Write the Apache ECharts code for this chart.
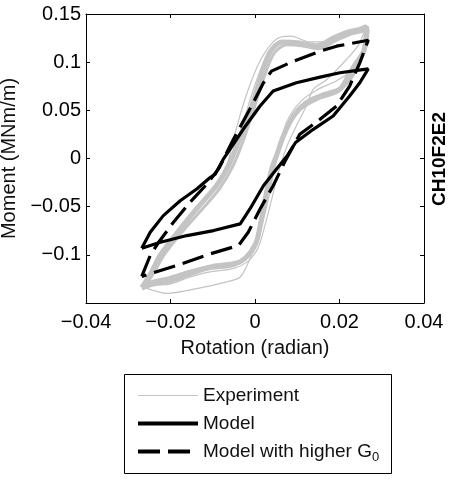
<!DOCTYPE html>
<html>
<head>
<meta charset="utf-8">
<script src="https://cdn.jsdelivr.net/npm/echarts@6/dist/echarts.min.js"></script>
<style>
  html, body { margin: 0; padding: 0; background: #fff; }
  #chart { width: 455px; height: 481px; }
</style>
</head>
<body>
<div id="chart"></div>
<script>
// tick labels
const xTicks = [-0.04, -0.02, 0, 0.02, 0.04]
const yTicks = [-0.1, -0.05, 0, 0.05, 0.1, 0.15]
const seriesNames = ['Experiment', 'Model', 'Model with higher G0']
const sideLabel = 'CH10F2E2'

// experiment loops [rotation, moment]
const expA = [
  [-0.0268, -0.134], [-0.0245, -0.118], [-0.0224, -0.100], [-0.0177, -0.073], [-0.0138, -0.052],
  [-0.0091, -0.028], [-0.0059, -0.004], [-0.0035, 0.022], [-0.0012, 0.048], [0.0012, 0.082],
  [0.0035, 0.110], [0.0065, 0.121], [0.0106, 0.120], [0.0146, 0.117], [0.0185, 0.125],
  [0.0217, 0.131], [0.0248, 0.134], [0.0264, 0.137], [0.0258, 0.112], [0.0236, 0.097],
  [0.0220, 0.085], [0.0201, 0.072], [0.0161, 0.066], [0.0122, 0.058], [0.0091, 0.044],
  [0.0067, 0.023], [0.0051, 0.003], [0.0040, -0.010], [0.0024, -0.042], [0.0012, -0.070],
  [0.0002, -0.088], [-0.0022, -0.103], [-0.0051, -0.110], [-0.0114, -0.114], [-0.0161, -0.121],
  [-0.0209, -0.128], [-0.0248, -0.131], [-0.0268, -0.134]
]
const expB = [
  [-0.0266, -0.136], [-0.0240, -0.119], [-0.0215, -0.100], [-0.0170, -0.075], [-0.0130, -0.055],
  [-0.0085, -0.032], [-0.0050, -0.006], [-0.0025, 0.022], [0.0000, 0.055], [0.0022, 0.085],
  [0.0045, 0.109], [0.0075, 0.118], [0.0110, 0.117], [0.0150, 0.114], [0.0190, 0.122],
  [0.0225, 0.129], [0.0255, 0.132], [0.0268, 0.134], [0.0262, 0.115], [0.0245, 0.097],
  [0.0225, 0.082], [0.0195, 0.069], [0.0150, 0.062], [0.0110, 0.052], [0.0082, 0.037],
  [0.0062, 0.018], [0.0048, -0.004], [0.0032, -0.030], [0.0018, -0.060], [0.0008, -0.082],
  [-0.0010, -0.099], [-0.0040, -0.107], [-0.0100, -0.111], [-0.0155, -0.117], [-0.0205, -0.124],
  [-0.0245, -0.128], [-0.0266, -0.136]
]
const expC = [
  [-0.0266, -0.133], [-0.0248, -0.118], [-0.0228, -0.103], [-0.0185, -0.078], [-0.0146, -0.058],
  [-0.0100, -0.034], [-0.0070, -0.012], [-0.0051, 0.020], [-0.0025, 0.060], [0.0005, 0.095],
  [0.0028, 0.113], [0.0055, 0.125], [0.0085, 0.127], [0.0130, 0.121], [0.0165, 0.121],
  [0.0200, 0.127], [0.0240, 0.131], [0.0262, 0.133], [0.0250, 0.105], [0.0225, 0.090],
  [0.0190, 0.080], [0.0150, 0.072], [0.0110, 0.060], [0.0075, 0.038], [0.0050, 0.000],
  [0.0035, -0.035], [0.0012, -0.077], [-0.0012, -0.104], [-0.0035, -0.123], [-0.0067, -0.128],
  [-0.0138, -0.135], [-0.0209, -0.140], [-0.0240, -0.137], [-0.0266, -0.133]
]
const expD = [
  [-0.0262, -0.130], [-0.0230, -0.110], [-0.0200, -0.090], [-0.0160, -0.066], [-0.0120, -0.045],
  [-0.0085, -0.022], [-0.0055, 0.005], [-0.0030, 0.035], [-0.0005, 0.070], [0.0020, 0.100],
  [0.0045, 0.118], [0.0080, 0.121], [0.0120, 0.117], [0.0160, 0.119], [0.0195, 0.126],
  [0.0230, 0.130], [0.0262, 0.136], [0.0245, 0.118], [0.0217, 0.103], [0.0170, 0.082],
  [0.0138, 0.072], [0.0122, 0.055], [0.0098, 0.034], [0.0075, 0.012], [0.0055, -0.015],
  [0.0038, -0.045], [0.0022, -0.072], [0.0008, -0.092], [-0.0015, -0.106], [-0.0050, -0.114],
  [-0.0110, -0.118], [-0.0160, -0.124], [-0.0210, -0.131], [-0.0262, -0.130]
]

// model loop
const model = [
  [-0.0268, -0.0931], [-0.0248, -0.0766], [-0.0217, -0.0593], [-0.0177, -0.0438], [-0.0138, -0.0317],
  [-0.0106, -0.0197], [-0.0094, -0.0162], [-0.0075, -0.0007], [-0.0059, 0.0097], [-0.0028, 0.0303],
  [0.0012, 0.0545], [0.0043, 0.0700], [0.0098, 0.0786], [0.0154, 0.0845], [0.0201, 0.0890],
  [0.0268, 0.0931], [0.0248, 0.0786], [0.0224, 0.0648], [0.0185, 0.0441], [0.0138, 0.0303],
  [0.0096, 0.0166], [0.0075, 0.0020], [0.0051, -0.0110], [0.0020, -0.0283], [-0.0012, -0.0524],
  [-0.0035, -0.0679], [-0.0098, -0.0748], [-0.0161, -0.0800], [-0.0224, -0.0869], [-0.0268, -0.0931]
]

// model with higher G0
const modelG0 = [
  [-0.0268, -0.1224], [-0.0248, -0.1007], [-0.0228, -0.0869], [-0.0193, -0.0662], [-0.0154, -0.0455],
  [-0.0114, -0.0266], [-0.0085, -0.0100], [-0.0051, 0.0200], [-0.0004, 0.0579], [0.0020, 0.0786],
  [0.0039, 0.0907], [0.0091, 0.1010], [0.0154, 0.1114], [0.0193, 0.1166], [0.0268, 0.1228],
  [0.0248, 0.0993], [0.0224, 0.0752], [0.0193, 0.0545], [0.0154, 0.0407], [0.0106, 0.0252],
  [0.0072, -0.0020], [0.0043, -0.0283], [0.0012, -0.0524], [-0.0016, -0.0766], [-0.0039, -0.0903],
  [-0.0106, -0.0990], [-0.0185, -0.1110], [-0.0268, -0.1224]
]

const font = 'Liberation Sans, Arial, sans-serif'
const grey = '#c4c4c4'

function tickText(v, list) {
  const hit = list.find(t => Math.abs(t - v) < 1e-9)
  if (hit === undefined) return ''
  if (hit === 0) return '0'
  return (hit < 0 ? '\u2212' : '') + String(Math.abs(hit))
}

const chart = echarts.init(document.getElementById('chart'), null, { renderer: 'canvas' })

// thin loops first so the legend sample takes the thin grey line
const expSeries = [expC, expD, expA, expB].map((d, i) => ({
  name: seriesNames[0],
  type: 'line',
  data: d,
  symbol: 'none',
  smooth: 0.3,
  z: 1,
  lineStyle: { color: grey, width: [1.2, 1.2, 5, 3][i] },
  itemStyle: { color: grey }
}))

const option = {
  animation: false,
  backgroundColor: '#fff',
  textStyle: { fontFamily: font },
  grid: { left: 86, top: 14, width: 338, height: 289, containLabel: false, outerBoundsMode: 'none' },
  xAxis: [{
    type: 'value', min: -0.04, max: 0.04, interval: 0.02,
    name: 'Rotation (radian)', nameLocation: 'middle', nameGap: 35,
    nameTextStyle: { fontSize: 20, color: '#111', fontFamily: font },
    axisLine: { show: true, onZero: false, lineStyle: { color: '#000', width: 1 } },
    axisTick: { show: true, inside: true, length: 4, lineStyle: { color: '#000' } },
    axisLabel: { fontSize: 20, color: '#000', margin: 9, fontFamily: font, formatter: v => tickText(v, xTicks) },
    splitLine: { show: false }
  }, {
    type: 'value', min: -0.04, max: 0.04, interval: 0.02, position: 'top',
    axisLine: { show: true, onZero: false, lineStyle: { color: '#000', width: 1 } },
    axisTick: { show: true, inside: true, length: 4, lineStyle: { color: '#000' } },
    axisLabel: { show: false }, splitLine: { show: false }
  }],
  yAxis: [{
    type: 'value', min: -0.15, max: 0.15, interval: 0.05,
    name: 'Moment (MNm/m)', nameLocation: 'middle', nameGap: 62,
    nameTextStyle: { fontSize: 20, color: '#111', fontFamily: font },
    axisLine: { show: true, onZero: false, lineStyle: { color: '#000', width: 1 } },
    axisTick: { show: true, inside: true, length: 4, lineStyle: { color: '#000' } },
    axisLabel: { fontSize: 20, color: '#000', margin: 5, fontFamily: font, formatter: v => tickText(v, yTicks) },
    splitLine: { show: false }
  }, {
    type: 'value', min: -0.15, max: 0.15, interval: 0.05, position: 'right',
    axisLine: { show: true, onZero: false, lineStyle: { color: '#000', width: 1 } },
    axisTick: { show: true, inside: true, length: 4, lineStyle: { color: '#000' } },
    axisLabel: { show: false }, splitLine: { show: false }
  }],
  legend: {
    orient: 'vertical',
    left: 131, top: 381,
    itemWidth: 60, itemHeight: 12, itemGap: 9,
    data: seriesNames.map((n, i) => ({ name: n, lineStyle: { width: [1.2, 4, 4][i] } })),
    itemStyle: { opacity: 0 },
    textStyle: {
      fontSize: 19, color: '#111', fontFamily: font,
      rich: { sub: { fontSize: 13, verticalAlign: 'bottom', padding: [12, 0, 0, 0], color: '#111', fontFamily: font } }
    },
    formatter: name => name === seriesNames[2] ? 'Model with higher G{sub|0}' : name
  },
  graphic: [{
    type: 'rect', left: 122, top: 372,
    shape: { width: 267, height: 99 },
    style: { fill: 'none', stroke: '#000', lineWidth: 1 }
  }, {
    type: 'text', left: 430, top: 112,
    rotation: Math.PI / 2,
    style: { text: sideLabel, font: 'bold 19px ' + font, fill: '#000' }
  }],
  series: expSeries.concat([{
    name: seriesNames[1],
    type: 'line',
    data: model,
    symbol: 'none',
    z: 3,
    lineStyle: { color: '#000', width: 3.2 },
    itemStyle: { color: '#000' }
  }, {
    name: seriesNames[2],
    type: 'line',
    data: modelG0,
    symbol: 'none',
    z: 4,
    lineStyle: { color: '#000', width: 3.2, type: [22, 8] },
    itemStyle: { color: '#000' }
  }])
}

chart.setOption(option)
</script>
</body>
</html>
